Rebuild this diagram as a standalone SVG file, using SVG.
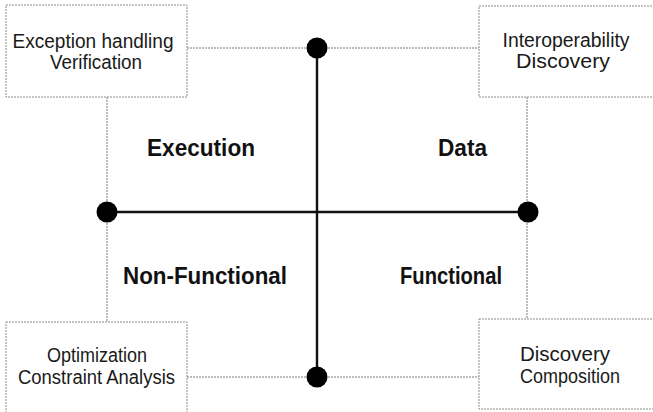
<svg xmlns="http://www.w3.org/2000/svg" width="653" height="412" viewBox="0 0 653 412">
  <style>
    .box { fill: #ffffff; stroke: #8a8a8a; stroke-width: 1; stroke-dasharray: 2 1; }
    .thin { stroke: #7a7a7a; stroke-width: 1; stroke-dasharray: 2 1; fill: none; }
    .axis { stroke: #111111; stroke-width: 2.4; fill: none; }
    .dot { fill: #000000; }
    .body { font-family: "Liberation Sans", Arial, sans-serif; font-size: 19.5px; fill: #1a1a1a; text-anchor: middle; }
    .quad { font-family: "Liberation Sans", Arial, sans-serif; font-size: 24px; font-weight: bold; fill: #111111; text-anchor: middle; }
  </style>
  <rect width="653" height="412" fill="#ffffff"/>

  <g id="connectors">
    <line class="thin" x1="187" y1="48" x2="479" y2="48"/>
    <line class="thin" x1="187" y1="377" x2="479" y2="377"/>
    <line class="thin" x1="107" y1="97" x2="107" y2="322"/>
    <line class="thin" x1="527" y1="97" x2="527" y2="319"/>
    <line class="axis" x1="317" y1="48" x2="317" y2="377" stroke-width="2"/>
    <line class="axis" x1="107" y1="212" x2="528" y2="212"/>
  </g>

  <g id="node-top-left">
    <rect class="box" x="6" y="5" width="181" height="92"/>
    <text class="body" x="93" y="48" textLength="161" lengthAdjust="spacingAndGlyphs">Exception handling</text>
    <text class="body" x="96" y="69" textLength="92" lengthAdjust="spacingAndGlyphs">Verification</text>
  </g>

  <g id="node-top-right">
    <rect class="box" x="479" y="6" width="185" height="91"/>
    <text class="body" x="566" y="47" textLength="127" lengthAdjust="spacingAndGlyphs">Interoperability</text>
    <text class="body" x="563" y="68" textLength="94" lengthAdjust="spacingAndGlyphs">Discovery</text>
  </g>

  <g id="node-bottom-left">
    <rect class="box" x="6" y="322" width="181" height="100"/>
    <text class="body" x="97" y="362" textLength="100" lengthAdjust="spacingAndGlyphs">Optimization</text>
    <text class="body" x="96.5" y="384" textLength="157" lengthAdjust="spacingAndGlyphs">Constraint Analysis</text>
  </g>

  <g id="node-bottom-right">
    <rect class="box" x="479" y="319" width="185" height="90"/>
    <text class="body" x="565" y="361" textLength="90" lengthAdjust="spacingAndGlyphs">Discovery</text>
    <text class="body" x="570" y="383" textLength="100" lengthAdjust="spacingAndGlyphs">Composition</text>
  </g>

  <g id="junctions">
    <circle class="dot" cx="317" cy="48" r="10.5"/>
    <circle class="dot" cx="317" cy="377" r="10.5"/>
    <circle class="dot" cx="107" cy="212" r="10.5"/>
    <circle class="dot" cx="528" cy="212" r="10.5"/>
  </g>

  <g id="quadrant-labels">
    <text class="quad" x="201" y="156" textLength="108" lengthAdjust="spacingAndGlyphs">Execution</text>
    <text class="quad" x="462.5" y="156" textLength="49" lengthAdjust="spacingAndGlyphs">Data</text>
    <text class="quad" x="205" y="284" textLength="164" lengthAdjust="spacingAndGlyphs">Non-Functional</text>
    <text class="quad" x="451" y="284" textLength="102" lengthAdjust="spacingAndGlyphs">Functional</text>
  </g>
</svg>
